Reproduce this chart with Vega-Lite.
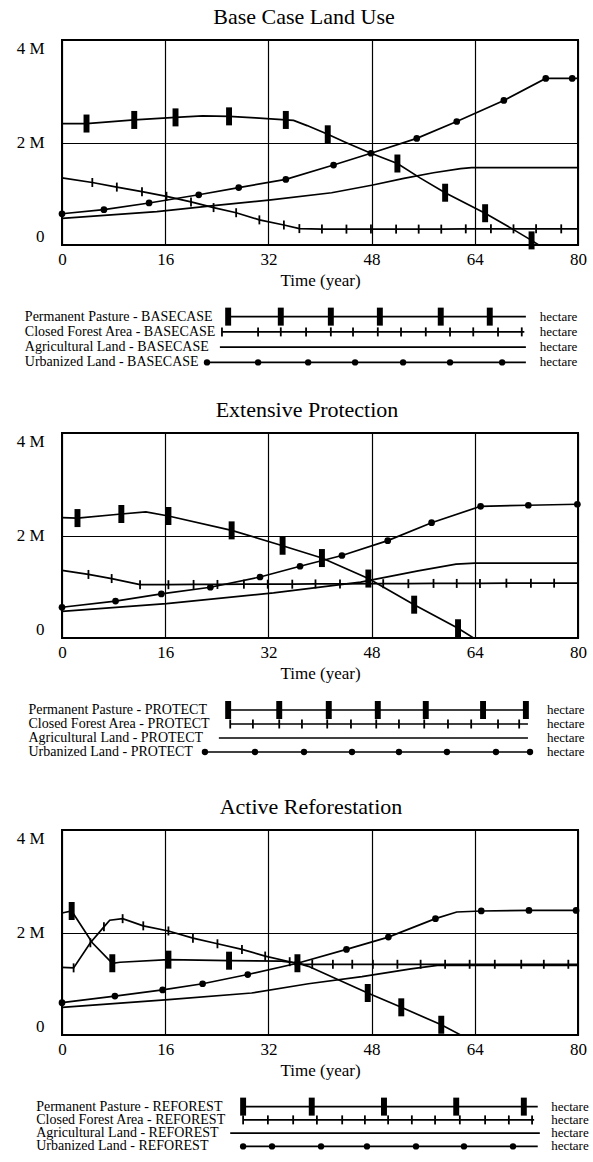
{
  "$schema": "https://vega.github.io/schema/vega-lite/v6.json",
  "padding": {"left": 15, "top": 5, "right": 5, "bottom": 5},
  "spacing": 18,
  "config": {
    "font": "Liberation Serif",
    "view": {"stroke": "black", "strokeWidth": 2},
    "axis": {
      "labelColor": "black", "titleColor": "black",
      "labelFont": "Liberation Serif", "titleFont": "Liberation Serif",
      "ticks": false, "domain": false, "grid": true,
      "gridColor": "black", "gridOpacity": 1, "gridWidth": 1.2,
      "labelFontSize": 17, "titleFontSize": 17, "titleFontWeight": "normal"
    },
    "title": {"font": "Liberation Serif", "fontSize": 22, "fontWeight": "normal", "color": "black", "offset": 10}
  },
  "datasets": {
    "lines": [
      {"s":"BASECASE","k":"Permanent Pasture","t":0,"v":2370000,"m":0},
      {"s":"BASECASE","k":"Permanent Pasture","t":3.8,"v":2370000,"m":1},
      {"s":"BASECASE","k":"Permanent Pasture","t":11.2,"v":2440000,"m":1},
      {"s":"BASECASE","k":"Permanent Pasture","t":17.6,"v":2490000,"m":1},
      {"s":"BASECASE","k":"Permanent Pasture","t":21.8,"v":2520000,"m":0},
      {"s":"BASECASE","k":"Permanent Pasture","t":25.9,"v":2510000,"m":1},
      {"s":"BASECASE","k":"Permanent Pasture","t":30,"v":2480000,"m":0},
      {"s":"BASECASE","k":"Permanent Pasture","t":34.7,"v":2440000,"m":1},
      {"s":"BASECASE","k":"Permanent Pasture","t":35.9,"v":2430000,"m":0},
      {"s":"BASECASE","k":"Permanent Pasture","t":38,"v":2330000,"m":0},
      {"s":"BASECASE","k":"Permanent Pasture","t":41.2,"v":2160000,"m":1},
      {"s":"BASECASE","k":"Permanent Pasture","t":44,"v":2000000,"m":0},
      {"s":"BASECASE","k":"Permanent Pasture","t":47.9,"v":1790000,"m":0},
      {"s":"BASECASE","k":"Permanent Pasture","t":52,"v":1590000,"m":1},
      {"s":"BASECASE","k":"Permanent Pasture","t":55.5,"v":1310000,"m":0},
      {"s":"BASECASE","k":"Permanent Pasture","t":59.4,"v":1020000,"m":1},
      {"s":"BASECASE","k":"Permanent Pasture","t":65.6,"v":620000,"m":1},
      {"s":"BASECASE","k":"Permanent Pasture","t":70,"v":300000,"m":0},
      {"s":"BASECASE","k":"Permanent Pasture","t":72.8,"v":90000,"m":1},
      {"s":"BASECASE","k":"Permanent Pasture","t":73.9,"v":0,"m":0},
      {"s":"BASECASE","k":"Permanent Pasture","t":80,"v":0,"m":0},
      {"s":"BASECASE","k":"Closed Forest Area","t":0,"v":1310000,"m":1},
      {"s":"BASECASE","k":"Closed Forest Area","t":4.7,"v":1220000,"m":1},
      {"s":"BASECASE","k":"Closed Forest Area","t":8.5,"v":1130000,"m":1},
      {"s":"BASECASE","k":"Closed Forest Area","t":12.4,"v":1040000,"m":1},
      {"s":"BASECASE","k":"Closed Forest Area","t":16.2,"v":950000,"m":1},
      {"s":"BASECASE","k":"Closed Forest Area","t":20,"v":840000,"m":1},
      {"s":"BASECASE","k":"Closed Forest Area","t":23.5,"v":730000,"m":1},
      {"s":"BASECASE","k":"Closed Forest Area","t":27,"v":630000,"m":1},
      {"s":"BASECASE","k":"Closed Forest Area","t":30.6,"v":490000,"m":1},
      {"s":"BASECASE","k":"Closed Forest Area","t":34.4,"v":390000,"m":1},
      {"s":"BASECASE","k":"Closed Forest Area","t":36.8,"v":320000,"m":1},
      {"s":"BASECASE","k":"Closed Forest Area","t":40.3,"v":310000,"m":1},
      {"s":"BASECASE","k":"Closed Forest Area","t":44.1,"v":310000,"m":1},
      {"s":"BASECASE","k":"Closed Forest Area","t":47.9,"v":310000,"m":1},
      {"s":"BASECASE","k":"Closed Forest Area","t":51.8,"v":310000,"m":1},
      {"s":"BASECASE","k":"Closed Forest Area","t":55.3,"v":310000,"m":1},
      {"s":"BASECASE","k":"Closed Forest Area","t":58.8,"v":310000,"m":1},
      {"s":"BASECASE","k":"Closed Forest Area","t":62.6,"v":315000,"m":1},
      {"s":"BASECASE","k":"Closed Forest Area","t":66.5,"v":315000,"m":1},
      {"s":"BASECASE","k":"Closed Forest Area","t":70,"v":315000,"m":1},
      {"s":"BASECASE","k":"Closed Forest Area","t":73.5,"v":315000,"m":1},
      {"s":"BASECASE","k":"Closed Forest Area","t":77.4,"v":315000,"m":1},
      {"s":"BASECASE","k":"Closed Forest Area","t":80,"v":315000,"m":0},
      {"s":"BASECASE","k":"Agricultural Land","t":0,"v":520000,"m":0},
      {"s":"BASECASE","k":"Agricultural Land","t":14.7,"v":650000,"m":0},
      {"s":"BASECASE","k":"Agricultural Land","t":23.5,"v":770000,"m":0},
      {"s":"BASECASE","k":"Agricultural Land","t":32.4,"v":880000,"m":0},
      {"s":"BASECASE","k":"Agricultural Land","t":41.8,"v":1020000,"m":0},
      {"s":"BASECASE","k":"Agricultural Land","t":48.2,"v":1170000,"m":0},
      {"s":"BASECASE","k":"Agricultural Land","t":53,"v":1300000,"m":0},
      {"s":"BASECASE","k":"Agricultural Land","t":57.6,"v":1410000,"m":0},
      {"s":"BASECASE","k":"Agricultural Land","t":61.8,"v":1490000,"m":0},
      {"s":"BASECASE","k":"Agricultural Land","t":63.5,"v":1510000,"m":0},
      {"s":"BASECASE","k":"Agricultural Land","t":80,"v":1510000,"m":0},
      {"s":"BASECASE","k":"Urbanized Land","t":0,"v":610000,"m":1},
      {"s":"BASECASE","k":"Urbanized Land","t":6.5,"v":690000,"m":1},
      {"s":"BASECASE","k":"Urbanized Land","t":13.5,"v":820000,"m":1},
      {"s":"BASECASE","k":"Urbanized Land","t":21.2,"v":980000,"m":1},
      {"s":"BASECASE","k":"Urbanized Land","t":27.4,"v":1120000,"m":1},
      {"s":"BASECASE","k":"Urbanized Land","t":34.7,"v":1280000,"m":1},
      {"s":"BASECASE","k":"Urbanized Land","t":42.1,"v":1560000,"m":1},
      {"s":"BASECASE","k":"Urbanized Land","t":47.9,"v":1790000,"m":1},
      {"s":"BASECASE","k":"Urbanized Land","t":55,"v":2080000,"m":1},
      {"s":"BASECASE","k":"Urbanized Land","t":61.2,"v":2410000,"m":1},
      {"s":"BASECASE","k":"Urbanized Land","t":68.5,"v":2820000,"m":1},
      {"s":"BASECASE","k":"Urbanized Land","t":75,"v":3250000,"m":1},
      {"s":"BASECASE","k":"Urbanized Land","t":79.1,"v":3250000,"m":1},
      {"s":"BASECASE","k":"Urbanized Land","t":80,"v":3250000,"m":0},

      {"s":"PROTECT","k":"Permanent Pasture","t":0,"v":2350000,"m":0},
      {"s":"PROTECT","k":"Permanent Pasture","t":2.4,"v":2340000,"m":1},
      {"s":"PROTECT","k":"Permanent Pasture","t":9.2,"v":2420000,"m":1},
      {"s":"PROTECT","k":"Permanent Pasture","t":13,"v":2460000,"m":0},
      {"s":"PROTECT","k":"Permanent Pasture","t":16.5,"v":2380000,"m":1},
      {"s":"PROTECT","k":"Permanent Pasture","t":26.3,"v":2100000,"m":1},
      {"s":"PROTECT","k":"Permanent Pasture","t":34.2,"v":1800000,"m":1},
      {"s":"PROTECT","k":"Permanent Pasture","t":40.3,"v":1560000,"m":1},
      {"s":"PROTECT","k":"Permanent Pasture","t":47.5,"v":1160000,"m":1},
      {"s":"PROTECT","k":"Permanent Pasture","t":54.6,"v":650000,"m":1},
      {"s":"PROTECT","k":"Permanent Pasture","t":61.4,"v":190000,"m":1},
      {"s":"PROTECT","k":"Permanent Pasture","t":63.8,"v":0,"m":0},
      {"s":"PROTECT","k":"Permanent Pasture","t":80,"v":0,"m":0},
      {"s":"PROTECT","k":"Closed Forest Area","t":0,"v":1320000,"m":0},
      {"s":"PROTECT","k":"Closed Forest Area","t":4.1,"v":1240000,"m":1},
      {"s":"PROTECT","k":"Closed Forest Area","t":7.7,"v":1160000,"m":1},
      {"s":"PROTECT","k":"Closed Forest Area","t":12.1,"v":1040000,"m":1},
      {"s":"PROTECT","k":"Closed Forest Area","t":16.5,"v":1040000,"m":1},
      {"s":"PROTECT","k":"Closed Forest Area","t":20.4,"v":1045000,"m":1},
      {"s":"PROTECT","k":"Closed Forest Area","t":24.1,"v":1045000,"m":1},
      {"s":"PROTECT","k":"Closed Forest Area","t":28.2,"v":1050000,"m":1},
      {"s":"PROTECT","k":"Closed Forest Area","t":31.9,"v":1050000,"m":1},
      {"s":"PROTECT","k":"Closed Forest Area","t":35.7,"v":1050000,"m":1},
      {"s":"PROTECT","k":"Closed Forest Area","t":39.3,"v":1055000,"m":1},
      {"s":"PROTECT","k":"Closed Forest Area","t":43.1,"v":1055000,"m":1},
      {"s":"PROTECT","k":"Closed Forest Area","t":49.8,"v":1060000,"m":1},
      {"s":"PROTECT","k":"Closed Forest Area","t":53.7,"v":1060000,"m":1},
      {"s":"PROTECT","k":"Closed Forest Area","t":57.6,"v":1065000,"m":1},
      {"s":"PROTECT","k":"Closed Forest Area","t":61.2,"v":1065000,"m":1},
      {"s":"PROTECT","k":"Closed Forest Area","t":64.8,"v":1065000,"m":1},
      {"s":"PROTECT","k":"Closed Forest Area","t":68.9,"v":1070000,"m":1},
      {"s":"PROTECT","k":"Closed Forest Area","t":72.7,"v":1070000,"m":1},
      {"s":"PROTECT","k":"Closed Forest Area","t":76.3,"v":1070000,"m":1},
      {"s":"PROTECT","k":"Closed Forest Area","t":80,"v":1070000,"m":0},
      {"s":"PROTECT","k":"Agricultural Land","t":0,"v":520000,"m":0},
      {"s":"PROTECT","k":"Agricultural Land","t":16.2,"v":670000,"m":0},
      {"s":"PROTECT","k":"Agricultural Land","t":32.8,"v":880000,"m":0},
      {"s":"PROTECT","k":"Agricultural Land","t":46.3,"v":1090000,"m":0},
      {"s":"PROTECT","k":"Agricultural Land","t":55.2,"v":1310000,"m":0},
      {"s":"PROTECT","k":"Agricultural Land","t":61.1,"v":1440000,"m":0},
      {"s":"PROTECT","k":"Agricultural Land","t":64,"v":1460000,"m":0},
      {"s":"PROTECT","k":"Agricultural Land","t":80,"v":1460000,"m":0},
      {"s":"PROTECT","k":"Urbanized Land","t":0,"v":600000,"m":1},
      {"s":"PROTECT","k":"Urbanized Land","t":8.3,"v":720000,"m":1},
      {"s":"PROTECT","k":"Urbanized Land","t":15.4,"v":860000,"m":1},
      {"s":"PROTECT","k":"Urbanized Land","t":23,"v":990000,"m":1},
      {"s":"PROTECT","k":"Urbanized Land","t":30.7,"v":1190000,"m":1},
      {"s":"PROTECT","k":"Urbanized Land","t":36.9,"v":1400000,"m":1},
      {"s":"PROTECT","k":"Urbanized Land","t":43.4,"v":1610000,"m":1},
      {"s":"PROTECT","k":"Urbanized Land","t":50.5,"v":1900000,"m":1},
      {"s":"PROTECT","k":"Urbanized Land","t":57.3,"v":2250000,"m":1},
      {"s":"PROTECT","k":"Urbanized Land","t":64.9,"v":2570000,"m":1},
      {"s":"PROTECT","k":"Urbanized Land","t":72.3,"v":2590000,"m":1},
      {"s":"PROTECT","k":"Urbanized Land","t":79.9,"v":2610000,"m":1},
      {"s":"PROTECT","k":"Urbanized Land","t":80,"v":2610000,"m":0},

      {"s":"REFOREST","k":"Permanent Pasture","t":0,"v":2380000,"m":0},
      {"s":"REFOREST","k":"Permanent Pasture","t":1.5,"v":2420000,"m":1},
      {"s":"REFOREST","k":"Permanent Pasture","t":4.7,"v":1800000,"m":0},
      {"s":"REFOREST","k":"Permanent Pasture","t":7.8,"v":1400000,"m":1},
      {"s":"REFOREST","k":"Permanent Pasture","t":9,"v":1420000,"m":0},
      {"s":"REFOREST","k":"Permanent Pasture","t":16.5,"v":1470000,"m":1},
      {"s":"REFOREST","k":"Permanent Pasture","t":25.9,"v":1450000,"m":1},
      {"s":"REFOREST","k":"Permanent Pasture","t":34,"v":1440000,"m":0},
      {"s":"REFOREST","k":"Permanent Pasture","t":36.5,"v":1400000,"m":1},
      {"s":"REFOREST","k":"Permanent Pasture","t":38.2,"v":1340000,"m":0},
      {"s":"REFOREST","k":"Permanent Pasture","t":47.4,"v":820000,"m":1},
      {"s":"REFOREST","k":"Permanent Pasture","t":52.6,"v":540000,"m":1},
      {"s":"REFOREST","k":"Permanent Pasture","t":58.8,"v":200000,"m":1},
      {"s":"REFOREST","k":"Permanent Pasture","t":61.8,"v":0,"m":0},
      {"s":"REFOREST","k":"Permanent Pasture","t":80,"v":0,"m":0},
      {"s":"REFOREST","k":"Closed Forest Area","t":0,"v":1320000,"m":0},
      {"s":"REFOREST","k":"Closed Forest Area","t":1.8,"v":1310000,"m":1},
      {"s":"REFOREST","k":"Closed Forest Area","t":4.4,"v":1800000,"m":1},
      {"s":"REFOREST","k":"Closed Forest Area","t":6.5,"v":2110000,"m":1},
      {"s":"REFOREST","k":"Closed Forest Area","t":7.4,"v":2240000,"m":0},
      {"s":"REFOREST","k":"Closed Forest Area","t":9.4,"v":2270000,"m":1},
      {"s":"REFOREST","k":"Closed Forest Area","t":12.6,"v":2130000,"m":1},
      {"s":"REFOREST","k":"Closed Forest Area","t":16.5,"v":2030000,"m":1},
      {"s":"REFOREST","k":"Closed Forest Area","t":20.3,"v":1890000,"m":1},
      {"s":"REFOREST","k":"Closed Forest Area","t":24.1,"v":1780000,"m":1},
      {"s":"REFOREST","k":"Closed Forest Area","t":27.9,"v":1670000,"m":1},
      {"s":"REFOREST","k":"Closed Forest Area","t":31.5,"v":1540000,"m":1},
      {"s":"REFOREST","k":"Closed Forest Area","t":35.3,"v":1430000,"m":1},
      {"s":"REFOREST","k":"Closed Forest Area","t":37.5,"v":1380000,"m":0},
      {"s":"REFOREST","k":"Closed Forest Area","t":38.8,"v":1380000,"m":1},
      {"s":"REFOREST","k":"Closed Forest Area","t":42,"v":1380000,"m":1},
      {"s":"REFOREST","k":"Closed Forest Area","t":45,"v":1380000,"m":1},
      {"s":"REFOREST","k":"Closed Forest Area","t":48.2,"v":1380000,"m":1},
      {"s":"REFOREST","k":"Closed Forest Area","t":52,"v":1380000,"m":1},
      {"s":"REFOREST","k":"Closed Forest Area","t":55.6,"v":1380000,"m":1},
      {"s":"REFOREST","k":"Closed Forest Area","t":59.4,"v":1380000,"m":1},
      {"s":"REFOREST","k":"Closed Forest Area","t":63.2,"v":1380000,"m":1},
      {"s":"REFOREST","k":"Closed Forest Area","t":67.1,"v":1380000,"m":1},
      {"s":"REFOREST","k":"Closed Forest Area","t":71.2,"v":1380000,"m":1},
      {"s":"REFOREST","k":"Closed Forest Area","t":74.7,"v":1380000,"m":1},
      {"s":"REFOREST","k":"Closed Forest Area","t":78.5,"v":1380000,"m":1},
      {"s":"REFOREST","k":"Closed Forest Area","t":80,"v":1380000,"m":0},
      {"s":"REFOREST","k":"Agricultural Land","t":0,"v":540000,"m":0},
      {"s":"REFOREST","k":"Agricultural Land","t":16.5,"v":690000,"m":0},
      {"s":"REFOREST","k":"Agricultural Land","t":29.4,"v":820000,"m":0},
      {"s":"REFOREST","k":"Agricultural Land","t":38.2,"v":1000000,"m":0},
      {"s":"REFOREST","k":"Agricultural Land","t":46.5,"v":1140000,"m":0},
      {"s":"REFOREST","k":"Agricultural Land","t":54.1,"v":1290000,"m":0},
      {"s":"REFOREST","k":"Agricultural Land","t":58.2,"v":1360000,"m":0},
      {"s":"REFOREST","k":"Agricultural Land","t":80,"v":1360000,"m":0},
      {"s":"REFOREST","k":"Urbanized Land","t":0,"v":630000,"m":1},
      {"s":"REFOREST","k":"Urbanized Land","t":8.2,"v":760000,"m":1},
      {"s":"REFOREST","k":"Urbanized Land","t":15.6,"v":880000,"m":1},
      {"s":"REFOREST","k":"Urbanized Land","t":21.8,"v":1000000,"m":1},
      {"s":"REFOREST","k":"Urbanized Land","t":28.8,"v":1180000,"m":1},
      {"s":"REFOREST","k":"Urbanized Land","t":36.5,"v":1400000,"m":1},
      {"s":"REFOREST","k":"Urbanized Land","t":44.1,"v":1670000,"m":1},
      {"s":"REFOREST","k":"Urbanized Land","t":50.6,"v":1910000,"m":1},
      {"s":"REFOREST","k":"Urbanized Land","t":57.9,"v":2270000,"m":1},
      {"s":"REFOREST","k":"Urbanized Land","t":61.2,"v":2400000,"m":0},
      {"s":"REFOREST","k":"Urbanized Land","t":65,"v":2420000,"m":1},
      {"s":"REFOREST","k":"Urbanized Land","t":72.4,"v":2430000,"m":1},
      {"s":"REFOREST","k":"Urbanized Land","t":79.7,"v":2430000,"m":1},
      {"s":"REFOREST","k":"Urbanized Land","t":80,"v":2430000,"m":0}
    ],
    "legend": [
      {"s":"BASECASE","k":"Permanent Pasture","x":32.2,"m":1},
      {"s":"BASECASE","k":"Permanent Pasture","x":42.4,"m":1},
      {"s":"BASECASE","k":"Permanent Pasture","x":52.1,"m":1},
      {"s":"BASECASE","k":"Permanent Pasture","x":61.6,"m":1},
      {"s":"BASECASE","k":"Permanent Pasture","x":73.4,"m":1},
      {"s":"BASECASE","k":"Permanent Pasture","x":82.9,"m":1},
      {"s":"BASECASE","k":"Permanent Pasture","x":89.9,"m":0},
      {"s":"BASECASE","k":"Closed Forest Area","x":31.0,"m":1},
      {"s":"BASECASE","k":"Closed Forest Area","x":38.0,"m":1},
      {"s":"BASECASE","k":"Closed Forest Area","x":42.4,"m":1},
      {"s":"BASECASE","k":"Closed Forest Area","x":47.3,"m":1},
      {"s":"BASECASE","k":"Closed Forest Area","x":52.1,"m":1},
      {"s":"BASECASE","k":"Closed Forest Area","x":56.4,"m":1},
      {"s":"BASECASE","k":"Closed Forest Area","x":61.2,"m":1},
      {"s":"BASECASE","k":"Closed Forest Area","x":65.7,"m":1},
      {"s":"BASECASE","k":"Closed Forest Area","x":70.5,"m":1},
      {"s":"BASECASE","k":"Closed Forest Area","x":75.2,"m":1},
      {"s":"BASECASE","k":"Closed Forest Area","x":79.7,"m":1},
      {"s":"BASECASE","k":"Closed Forest Area","x":84.5,"m":1},
      {"s":"BASECASE","k":"Closed Forest Area","x":89.1,"m":1},
      {"s":"BASECASE","k":"Closed Forest Area","x":89.6,"m":0},
      {"s":"BASECASE","k":"Agricultural Land","x":30.6,"m":0},
      {"s":"BASECASE","k":"Agricultural Land","x":89.9,"m":0},
      {"s":"BASECASE","k":"Urbanized Land","x":28.1,"m":1},
      {"s":"BASECASE","k":"Urbanized Land","x":38.0,"m":1},
      {"s":"BASECASE","k":"Urbanized Land","x":47.7,"m":1},
      {"s":"BASECASE","k":"Urbanized Land","x":56.8,"m":1},
      {"s":"BASECASE","k":"Urbanized Land","x":66.1,"m":1},
      {"s":"BASECASE","k":"Urbanized Land","x":75.2,"m":1},
      {"s":"BASECASE","k":"Urbanized Land","x":85.3,"m":1},
      {"s":"BASECASE","k":"Urbanized Land","x":89.9,"m":0},

      {"s":"PROTECT","k":"Permanent Pasture","x":32.2,"m":1},
      {"s":"PROTECT","k":"Permanent Pasture","x":42.1,"m":1},
      {"s":"PROTECT","k":"Permanent Pasture","x":51.7,"m":1},
      {"s":"PROTECT","k":"Permanent Pasture","x":61.2,"m":1},
      {"s":"PROTECT","k":"Permanent Pasture","x":70.5,"m":1},
      {"s":"PROTECT","k":"Permanent Pasture","x":81.6,"m":1},
      {"s":"PROTECT","k":"Permanent Pasture","x":89.9,"m":1},
      {"s":"PROTECT","k":"Closed Forest Area","x":32.6,"m":1},
      {"s":"PROTECT","k":"Closed Forest Area","x":37.0,"m":1},
      {"s":"PROTECT","k":"Closed Forest Area","x":42.1,"m":1},
      {"s":"PROTECT","k":"Closed Forest Area","x":46.5,"m":1},
      {"s":"PROTECT","k":"Closed Forest Area","x":51.4,"m":1},
      {"s":"PROTECT","k":"Closed Forest Area","x":56.0,"m":1},
      {"s":"PROTECT","k":"Closed Forest Area","x":60.9,"m":1},
      {"s":"PROTECT","k":"Closed Forest Area","x":65.3,"m":1},
      {"s":"PROTECT","k":"Closed Forest Area","x":70.2,"m":1},
      {"s":"PROTECT","k":"Closed Forest Area","x":74.8,"m":1},
      {"s":"PROTECT","k":"Closed Forest Area","x":79.3,"m":1},
      {"s":"PROTECT","k":"Closed Forest Area","x":84.5,"m":1},
      {"s":"PROTECT","k":"Closed Forest Area","x":88.6,"m":1},
      {"s":"PROTECT","k":"Closed Forest Area","x":90.3,"m":0},
      {"s":"PROTECT","k":"Agricultural Land","x":30.4,"m":0},
      {"s":"PROTECT","k":"Agricultural Land","x":90.3,"m":0},
      {"s":"PROTECT","k":"Urbanized Land","x":27.7,"m":1},
      {"s":"PROTECT","k":"Urbanized Land","x":37.4,"m":1},
      {"s":"PROTECT","k":"Urbanized Land","x":46.9,"m":1},
      {"s":"PROTECT","k":"Urbanized Land","x":56.2,"m":1},
      {"s":"PROTECT","k":"Urbanized Land","x":65.3,"m":1},
      {"s":"PROTECT","k":"Urbanized Land","x":74.6,"m":1},
      {"s":"PROTECT","k":"Urbanized Land","x":84.1,"m":1},
      {"s":"PROTECT","k":"Urbanized Land","x":90.7,"m":1},

      {"s":"REFOREST","k":"Permanent Pasture","x":35.1,"m":1},
      {"s":"REFOREST","k":"Permanent Pasture","x":48.4,"m":1},
      {"s":"REFOREST","k":"Permanent Pasture","x":62.4,"m":1},
      {"s":"REFOREST","k":"Permanent Pasture","x":76.4,"m":1},
      {"s":"REFOREST","k":"Permanent Pasture","x":89.5,"m":1},
      {"s":"REFOREST","k":"Permanent Pasture","x":92.2,"m":0},
      {"s":"REFOREST","k":"Closed Forest Area","x":35.1,"m":1},
      {"s":"REFOREST","k":"Closed Forest Area","x":39.9,"m":1},
      {"s":"REFOREST","k":"Closed Forest Area","x":44.8,"m":1},
      {"s":"REFOREST","k":"Closed Forest Area","x":49.4,"m":1},
      {"s":"REFOREST","k":"Closed Forest Area","x":54.3,"m":1},
      {"s":"REFOREST","k":"Closed Forest Area","x":58.7,"m":1},
      {"s":"REFOREST","k":"Closed Forest Area","x":63.2,"m":1},
      {"s":"REFOREST","k":"Closed Forest Area","x":67.8,"m":1},
      {"s":"REFOREST","k":"Closed Forest Area","x":72.3,"m":1},
      {"s":"REFOREST","k":"Closed Forest Area","x":77.1,"m":1},
      {"s":"REFOREST","k":"Closed Forest Area","x":82.0,"m":1},
      {"s":"REFOREST","k":"Closed Forest Area","x":86.6,"m":1},
      {"s":"REFOREST","k":"Closed Forest Area","x":91.1,"m":1},
      {"s":"REFOREST","k":"Closed Forest Area","x":91.5,"m":0},
      {"s":"REFOREST","k":"Agricultural Land","x":32.6,"m":0},
      {"s":"REFOREST","k":"Agricultural Land","x":92.6,"m":0},
      {"s":"REFOREST","k":"Urbanized Land","x":35.1,"m":1},
      {"s":"REFOREST","k":"Urbanized Land","x":40.7,"m":1},
      {"s":"REFOREST","k":"Urbanized Land","x":50.2,"m":1},
      {"s":"REFOREST","k":"Urbanized Land","x":59.1,"m":1},
      {"s":"REFOREST","k":"Urbanized Land","x":68.6,"m":1},
      {"s":"REFOREST","k":"Urbanized Land","x":77.9,"m":1},
      {"s":"REFOREST","k":"Urbanized Land","x":87.4,"m":1},
      {"s":"REFOREST","k":"Urbanized Land","x":92.2,"m":0}
    ],
    "labels": [
      {"s":"BASECASE","k":"Permanent Pasture","label":"Permanent Pasture - BASECASE"},
      {"s":"BASECASE","k":"Closed Forest Area","label":"Closed Forest Area - BASECASE"},
      {"s":"BASECASE","k":"Agricultural Land","label":"Agricultural Land - BASECASE"},
      {"s":"BASECASE","k":"Urbanized Land","label":"Urbanized Land - BASECASE"},
      {"s":"PROTECT","k":"Permanent Pasture","label":"Permanent Pasture - PROTECT"},
      {"s":"PROTECT","k":"Closed Forest Area","label":"Closed Forest Area - PROTECT"},
      {"s":"PROTECT","k":"Agricultural Land","label":"Agricultural Land - PROTECT"},
      {"s":"PROTECT","k":"Urbanized Land","label":"Urbanized Land - PROTECT"},
      {"s":"REFOREST","k":"Permanent Pasture","label":"Permanent Pasture - REFOREST"},
      {"s":"REFOREST","k":"Closed Forest Area","label":"Closed Forest Area - REFOREST"},
      {"s":"REFOREST","k":"Agricultural Land","label":"Agricultural Land - REFOREST"},
      {"s":"REFOREST","k":"Urbanized Land","label":"Urbanized Land - REFOREST"}
    ]
  },
  "vconcat": [
    {
      "width": 516, "height": 205,
      "title": {"text": "Base Case Land Use", "dx": -16},
      "data": {"name": "lines"},
      "transform": [{"filter": "datum.s == 'BASECASE'"}],
      "encoding": {
        "x": {"field": "t", "type": "quantitative", "scale": {"domain": [0, 80], "nice": false},
              "axis": {"values": [0, 16, 32, 48, 64, 80], "title": "Time (year)", "labelPadding": 6, "titlePadding": 5, "labelFlush": false, "labelOverlap": false}},
        "y": {"field": "v", "type": "quantitative", "scale": {"domain": [0, 4000000], "nice": false},
              "axis": {"values": [0, 2000000, 4000000], "title": null, "labelPadding": 18, "labelFlush": true,
                       "labelExpr": "datum.value == 0 ? '0' : (datum.value / 1000000) + ' M'"}}
      },
      "layer": [
        {"mark": {"type": "line", "color": "black", "strokeWidth": 1.7}, "encoding": {"detail": {"field": "k"}}},
        {"transform": [{"filter": "datum.k == 'Permanent Pasture' && datum.m == 1"}],
         "mark": {"type": "point", "shape": "M-0.33,-1L0.33,-1L0.33,1L-0.33,1Z", "size": 324, "filled": true, "color": "black", "opacity": 1, "strokeWidth": 0}},
        {"transform": [{"filter": "datum.k == 'Closed Forest Area' && datum.m == 1"}],
         "mark": {"type": "point", "shape": "M-0.2,-1L0.2,-1L0.2,1L-0.2,1Z", "size": 81, "filled": true, "color": "black", "opacity": 1, "strokeWidth": 0}},
        {"transform": [{"filter": "datum.k == 'Urbanized Land' && datum.m == 1"}],
         "mark": {"type": "point", "shape": "circle", "size": 45, "filled": true, "color": "black", "opacity": 1}}
      ]
    },
    {
      "width": 516, "height": 71,
      "view": {"stroke": null},
      "layer": [
        {"data": {"name": "legend"}, "transform": [{"filter": "datum.s == 'BASECASE'"}],
         "mark": {"type": "line", "color": "black", "strokeWidth": 1.7},
         "encoding": {
           "x": {"field": "x", "type": "quantitative", "scale": {"domain": [0, 100]}, "axis": null},
           "y": {"field": "k", "type": "nominal", "scale": {"type": "band", "domain": ["Permanent Pasture", "Closed Forest Area", "Agricultural Land", "Urbanized Land"], "paddingInner": 0, "paddingOuter": 0.327, "align": 0}, "axis": null},
           "detail": {"field": "k"}}},
        {"data": {"name": "legend"}, "transform": [{"filter": "datum.s == 'BASECASE' && datum.k == 'Permanent Pasture' && datum.m == 1"}],
         "mark": {"type": "point", "shape": "M-0.33,-1L0.33,-1L0.33,1L-0.33,1Z", "size": 324, "filled": true, "color": "black", "opacity": 1, "strokeWidth": 0},
         "encoding": {"x": {"field": "x", "type": "quantitative"}, "y": {"field": "k", "type": "nominal"}}},
        {"data": {"name": "legend"}, "transform": [{"filter": "datum.s == 'BASECASE' && datum.k == 'Closed Forest Area' && datum.m == 1"}],
         "mark": {"type": "point", "shape": "M-0.2,-1L0.2,-1L0.2,1L-0.2,1Z", "size": 81, "filled": true, "color": "black", "opacity": 1, "strokeWidth": 0},
         "encoding": {"x": {"field": "x", "type": "quantitative"}, "y": {"field": "k", "type": "nominal"}}},
        {"data": {"name": "legend"}, "transform": [{"filter": "datum.s == 'BASECASE' && datum.k == 'Urbanized Land' && datum.m == 1"}],
         "mark": {"type": "point", "shape": "circle", "size": 40, "filled": true, "color": "black", "opacity": 1},
         "encoding": {"x": {"field": "x", "type": "quantitative"}, "y": {"field": "k", "type": "nominal"}}},
        {"data": {"name": "labels"}, "transform": [{"filter": "datum.s == 'BASECASE'"}],
         "mark": {"type": "text", "align": "left", "baseline": "middle", "fontSize": 14, "color": "black"},
         "encoding": {"x": {"datum": -7.2, "type": "quantitative"}, "y": {"field": "k", "type": "nominal"}, "text": {"field": "label"}}},
        {"data": {"name": "labels"}, "transform": [{"filter": "datum.s == 'BASECASE'"}],
         "mark": {"type": "text", "align": "left", "baseline": "middle", "fontSize": 13, "color": "black"},
         "encoding": {"x": {"datum": 92.6, "type": "quantitative"}, "y": {"field": "k", "type": "nominal"}, "text": {"value": "hectare"}}}
      ]
    },
    {
      "width": 516, "height": 205,
      "title": {"text": "Extensive Protection", "dx": -13},
      "data": {"name": "lines"},
      "transform": [{"filter": "datum.s == 'PROTECT'"}],
      "encoding": {
        "x": {"field": "t", "type": "quantitative", "scale": {"domain": [0, 80], "nice": false},
              "axis": {"values": [0, 16, 32, 48, 64, 80], "title": "Time (year)", "labelPadding": 6, "titlePadding": 5, "labelFlush": false, "labelOverlap": false}},
        "y": {"field": "v", "type": "quantitative", "scale": {"domain": [0, 4000000], "nice": false},
              "axis": {"values": [0, 2000000, 4000000], "title": null, "labelPadding": 18, "labelFlush": true,
                       "labelExpr": "datum.value == 0 ? '0' : (datum.value / 1000000) + ' M'"}}
      },
      "layer": [
        {"mark": {"type": "line", "color": "black", "strokeWidth": 1.7}, "encoding": {"detail": {"field": "k"}}},
        {"transform": [{"filter": "datum.k == 'Permanent Pasture' && datum.m == 1"}],
         "mark": {"type": "point", "shape": "M-0.33,-1L0.33,-1L0.33,1L-0.33,1Z", "size": 324, "filled": true, "color": "black", "opacity": 1, "strokeWidth": 0}},
        {"transform": [{"filter": "datum.k == 'Closed Forest Area' && datum.m == 1"}],
         "mark": {"type": "point", "shape": "M-0.2,-1L0.2,-1L0.2,1L-0.2,1Z", "size": 81, "filled": true, "color": "black", "opacity": 1, "strokeWidth": 0}},
        {"transform": [{"filter": "datum.k == 'Urbanized Land' && datum.m == 1"}],
         "mark": {"type": "point", "shape": "circle", "size": 45, "filled": true, "color": "black", "opacity": 1}}
      ]
    },
    {
      "width": 516, "height": 74,
      "view": {"stroke": null},
      "layer": [
        {"data": {"name": "legend"}, "transform": [{"filter": "datum.s == 'PROTECT'"}],
         "mark": {"type": "line", "color": "black", "strokeWidth": 1.7},
         "encoding": {
           "x": {"field": "x", "type": "quantitative", "scale": {"domain": [0, 100]}, "axis": null},
           "y": {"field": "k", "type": "nominal", "scale": {"type": "band", "domain": ["Permanent Pasture", "Closed Forest Area", "Agricultural Land", "Urbanized Land"], "paddingInner": 0, "paddingOuter": 0.643, "align": 0}, "axis": null},
           "detail": {"field": "k"}}},
        {"data": {"name": "legend"}, "transform": [{"filter": "datum.s == 'PROTECT' && datum.k == 'Permanent Pasture' && datum.m == 1"}],
         "mark": {"type": "point", "shape": "M-0.33,-1L0.33,-1L0.33,1L-0.33,1Z", "size": 324, "filled": true, "color": "black", "opacity": 1, "strokeWidth": 0},
         "encoding": {"x": {"field": "x", "type": "quantitative"}, "y": {"field": "k", "type": "nominal"}}},
        {"data": {"name": "legend"}, "transform": [{"filter": "datum.s == 'PROTECT' && datum.k == 'Closed Forest Area' && datum.m == 1"}],
         "mark": {"type": "point", "shape": "M-0.2,-1L0.2,-1L0.2,1L-0.2,1Z", "size": 81, "filled": true, "color": "black", "opacity": 1, "strokeWidth": 0},
         "encoding": {"x": {"field": "x", "type": "quantitative"}, "y": {"field": "k", "type": "nominal"}}},
        {"data": {"name": "legend"}, "transform": [{"filter": "datum.s == 'PROTECT' && datum.k == 'Urbanized Land' && datum.m == 1"}],
         "mark": {"type": "point", "shape": "circle", "size": 40, "filled": true, "color": "black", "opacity": 1},
         "encoding": {"x": {"field": "x", "type": "quantitative"}, "y": {"field": "k", "type": "nominal"}}},
        {"data": {"name": "labels"}, "transform": [{"filter": "datum.s == 'PROTECT'"}],
         "mark": {"type": "text", "align": "left", "baseline": "middle", "fontSize": 14, "color": "black"},
         "encoding": {"x": {"datum": -6.5, "type": "quantitative"}, "y": {"field": "k", "type": "nominal"}, "text": {"field": "label"}}},
        {"data": {"name": "labels"}, "transform": [{"filter": "datum.s == 'PROTECT'"}],
         "mark": {"type": "text", "align": "left", "baseline": "middle", "fontSize": 13, "color": "black"},
         "encoding": {"x": {"datum": 94.0, "type": "quantitative"}, "y": {"field": "k", "type": "nominal"}, "text": {"value": "hectare"}}}
      ]
    },
    {
      "width": 516, "height": 205,
      "title": {"text": "Active Reforestation", "dx": -9},
      "data": {"name": "lines"},
      "transform": [{"filter": "datum.s == 'REFOREST'"}],
      "encoding": {
        "x": {"field": "t", "type": "quantitative", "scale": {"domain": [0, 80], "nice": false},
              "axis": {"values": [0, 16, 32, 48, 64, 80], "title": "Time (year)", "labelPadding": 6, "titlePadding": 5, "labelFlush": false, "labelOverlap": false}},
        "y": {"field": "v", "type": "quantitative", "scale": {"domain": [0, 4000000], "nice": false},
              "axis": {"values": [0, 2000000, 4000000], "title": null, "labelPadding": 18, "labelFlush": true,
                       "labelExpr": "datum.value == 0 ? '0' : (datum.value / 1000000) + ' M'"}}
      },
      "layer": [
        {"mark": {"type": "line", "color": "black", "strokeWidth": 1.7}, "encoding": {"detail": {"field": "k"}}},
        {"transform": [{"filter": "datum.k == 'Permanent Pasture' && datum.m == 1"}],
         "mark": {"type": "point", "shape": "M-0.33,-1L0.33,-1L0.33,1L-0.33,1Z", "size": 324, "filled": true, "color": "black", "opacity": 1, "strokeWidth": 0}},
        {"transform": [{"filter": "datum.k == 'Closed Forest Area' && datum.m == 1"}],
         "mark": {"type": "point", "shape": "M-0.2,-1L0.2,-1L0.2,1L-0.2,1Z", "size": 81, "filled": true, "color": "black", "opacity": 1, "strokeWidth": 0}},
        {"transform": [{"filter": "datum.k == 'Urbanized Land' && datum.m == 1"}],
         "mark": {"type": "point", "shape": "circle", "size": 45, "filled": true, "color": "black", "opacity": 1}}
      ]
    },
    {
      "width": 516, "height": 53,
      "view": {"stroke": null},
      "layer": [
        {"data": {"name": "legend"}, "transform": [{"filter": "datum.s == 'REFOREST'"}],
         "mark": {"type": "line", "color": "black", "strokeWidth": 1.7},
         "encoding": {
           "x": {"field": "x", "type": "quantitative", "scale": {"domain": [0, 100]}, "axis": null},
           "y": {"field": "k", "type": "nominal", "scale": {"type": "band", "domain": ["Permanent Pasture", "Closed Forest Area", "Agricultural Land", "Urbanized Land"], "paddingInner": 0, "paddingOuter": 0, "align": 0}, "axis": null},
           "detail": {"field": "k"}}},
        {"data": {"name": "legend"}, "transform": [{"filter": "datum.s == 'REFOREST' && datum.k == 'Permanent Pasture' && datum.m == 1"}],
         "mark": {"type": "point", "shape": "M-0.33,-1L0.33,-1L0.33,1L-0.33,1Z", "size": 324, "filled": true, "color": "black", "opacity": 1, "strokeWidth": 0},
         "encoding": {"x": {"field": "x", "type": "quantitative"}, "y": {"field": "k", "type": "nominal"}}},
        {"data": {"name": "legend"}, "transform": [{"filter": "datum.s == 'REFOREST' && datum.k == 'Closed Forest Area' && datum.m == 1"}],
         "mark": {"type": "point", "shape": "M-0.2,-1L0.2,-1L0.2,1L-0.2,1Z", "size": 81, "filled": true, "color": "black", "opacity": 1, "strokeWidth": 0},
         "encoding": {"x": {"field": "x", "type": "quantitative"}, "y": {"field": "k", "type": "nominal"}}},
        {"data": {"name": "legend"}, "transform": [{"filter": "datum.s == 'REFOREST' && datum.k == 'Urbanized Land' && datum.m == 1"}],
         "mark": {"type": "point", "shape": "circle", "size": 40, "filled": true, "color": "black", "opacity": 1},
         "encoding": {"x": {"field": "x", "type": "quantitative"}, "y": {"field": "k", "type": "nominal"}}},
        {"data": {"name": "labels"}, "transform": [{"filter": "datum.s == 'REFOREST'"}],
         "mark": {"type": "text", "align": "left", "baseline": "middle", "fontSize": 14, "color": "black"},
         "encoding": {"x": {"datum": -5.0, "type": "quantitative"}, "y": {"field": "k", "type": "nominal"}, "text": {"field": "label"}}},
        {"data": {"name": "labels"}, "transform": [{"filter": "datum.s == 'REFOREST'"}],
         "mark": {"type": "text", "align": "left", "baseline": "middle", "fontSize": 13, "color": "black"},
         "encoding": {"x": {"datum": 94.8, "type": "quantitative"}, "y": {"field": "k", "type": "nominal"}, "text": {"value": "hectare"}}}
      ]
    }
  ]
}
